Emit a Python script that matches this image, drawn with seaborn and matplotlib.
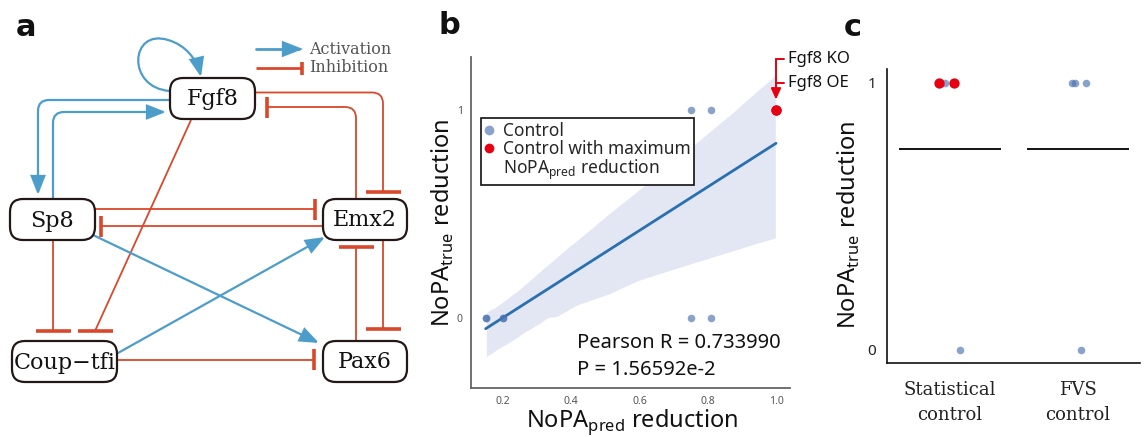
import numpy as np
import pandas as pd
import matplotlib
matplotlib.use("Agg")
import matplotlib.pyplot as plt
from matplotlib.patches import FancyBboxPatch, FancyArrowPatch, PathPatch
from matplotlib.path import Path
from matplotlib.lines import Line2D
import seaborn as sns

# ------------------------------------------------------------------ data
# panel a : regulatory network
node_names = ["Fgf8", "Sp8", "Emx2", "Coup\u2212tfi", "Pax6"]
edge_sources = ["Fgf8", "Fgf8", "Sp8", "Fgf8", "Fgf8", "Emx2", "Sp8", "Emx2",
                "Sp8", "Coup\u2212tfi", "Sp8", "Coup\u2212tfi", "Pax6", "Emx2"]
edge_targets = ["Fgf8", "Sp8", "Fgf8", "Coup\u2212tfi", "Emx2", "Fgf8", "Emx2", "Sp8",
                "Pax6", "Emx2", "Coup\u2212tfi", "Pax6", "Emx2", "Pax6"]
edge_kinds = ["act", "act", "act", "inh", "inh", "inh", "inh", "inh",
              "act", "act", "inh", "inh", "inh", "inh"]
legend_kinds = ["Activation", "Inhibition"]

# panel b : NoPA_pred vs NoPA_true reduction
b_pred = [0.15, 0.15, 0.20, 0.20, 0.75, 0.81, 0.75, 0.81, 1.00, 1.00]
b_true = [0, 0, 0, 0, 0, 0, 1, 1, 1, 1]
b_group = ["Control"] * 8 + ["Control with maximum"] * 2
b_legend_extra = "NoPA$_{\\mathregular{pred}}$ reduction"
b_pearson_r = "0.733990"
b_p_value = "1.56592e-2"
b_annot = ["Fgf8 KO", "Fgf8 OE"]
b_xticks = [0.2, 0.4, 0.6, 0.8, 1.0]
b_yticks = [0, 1]

# panel c : NoPA_true reduction per control type
c_categories = ["Statistical\ncontrol", "FVS\ncontrol"]
c_group = [c_categories[0]] * 4 + [c_categories[1]] * 4
c_values = [1, 1, 1, 0, 1, 1, 1, 0]
c_is_max = [True, False, True, False, False, False, False, False]
c_jitter = [-0.09, -0.04, 0.03, 0.08, -0.04, -0.02, 0.065, 0.03]

# ------------------------------------------------------------------ style
sns.set_style("white")
plt.rcParams["font.family"] = ["Noto Sans", "DejaVu Sans"]
plt.rcParams["mathtext.fontset"] = "custom"

W, H = 1144, 437
fig = plt.figure(figsize=(W / 100, H / 100), dpi=100)

BLUE_NET = "#4d9dca"
RED_NET = "#d9482b"
PT_BLUE = "#4c72b0"
PT_RED = "#e60012"
SERIF = ["DejaVu Serif"]

# ------------------------------------------------------------------ panel a
axa = fig.add_axes([0, 0, 420 / W, 1])
axa.set_xlim(0, 420)
axa.set_ylim(437, 0)
axa.axis("off")

node_boxes = {
    "Fgf8": (170, 78, 85, 41),
    "Sp8": (10, 199, 85, 41),
    "Emx2": (323, 199, 84, 41),
    "Coup\u2212tfi": (12, 341, 105, 41),
    "Pax6": (323, 341, 84, 41),
}
routes = {
    ("Fgf8", "Sp8"): ([(170, 100), (38, 100), (38, 195)], None),
    ("Sp8", "Fgf8"): ([(53, 199), (53, 112), (166, 112)], None),
    ("Fgf8", "Coup\u2212tfi"): ([(191, 120), (95, 331)], "h"),
    ("Fgf8", "Emx2"): ([(255, 92.5), (383, 92.5), (383, 192)], "h"),
    ("Emx2", "Fgf8"): ([(356, 199), (356, 107), (267, 107)], "v"),
    ("Sp8", "Emx2"): ([(95, 209), (315, 209)], "v"),
    ("Emx2", "Sp8"): ([(323, 226), (101, 226)], "v"),
    ("Sp8", "Pax6"): ([(93, 235), (319, 343)], None),
    ("Coup\u2212tfi", "Emx2"): ([(118, 353), (325, 237)], None),
    ("Sp8", "Coup\u2212tfi"): ([(53, 240), (53, 331)], "h"),
    ("Coup\u2212tfi", "Pax6"): ([(117, 359.5), (314, 359.5)], "v"),
    ("Pax6", "Emx2"): ([(356, 341), (356, 247)], "h"),
    ("Emx2", "Pax6"): ([(383, 240), (383, 329)], "h"),
}


def rounded_path(pts, r=11):
    verts = [pts[0]]
    codes = [Path.MOVETO]
    for i in range(1, len(pts) - 1):
        p0, p1, p2 = (np.array(pts[i - 1], float), np.array(pts[i], float),
                      np.array(pts[i + 1], float))
        d1 = (p1 - p0) / np.linalg.norm(p1 - p0)
        d2 = (p2 - p1) / np.linalg.norm(p2 - p1)
        verts += [tuple(p1 - d1 * r), tuple(p1), tuple(p1 + d2 * r)]
        codes += [Path.LINETO, Path.CURVE3, Path.CURVE3]
    verts.append(pts[-1])
    codes.append(Path.LINETO)
    return Path(verts, codes)


def draw_act(ax, path, lw=1.6):
    ax.add_patch(FancyArrowPatch(path=path, arrowstyle="-|>,head_length=1.15,head_width=0.45",
                                 mutation_scale=10, color=BLUE_NET, lw=lw,
                                 joinstyle="miter", zorder=2))


def draw_inh(ax, path, end, orient, half, lw=1.3):
    ax.add_patch(PathPatch(path, fill=False, edgecolor=RED_NET, lw=lw, zorder=2))
    x, y = end
    if orient == "h":
        ax.plot([x - half, x + half], [y, y], color=RED_NET, lw=2.6,
                solid_capstyle="butt", zorder=2)
    else:
        ax.plot([x, x], [y - half, y + half], color=RED_NET, lw=2.6,
                solid_capstyle="butt", zorder=2)


for s, t, k in zip(edge_sources, edge_targets, edge_kinds):
    if s == t:
        loop = Path([(170, 91), (126, 88), (130, 28), (168, 40), (186, 45), (197, 60), (201, 77)],
                    [Path.MOVETO, Path.CURVE4, Path.CURVE4, Path.CURVE4,
                     Path.CURVE4, Path.CURVE4, Path.CURVE4])
        draw_act(axa, loop)
        continue
    pts, orient = routes[(s, t)]
    path = rounded_path(pts)
    if k == "act":
        draw_act(axa, path)
    else:
        half = 17.5 if orient == "h" else 10.5
        draw_inh(axa, path, pts[-1], orient, half)

for name in node_names:
    x0, y0, w, h = node_boxes[name]
    axa.add_patch(FancyBboxPatch((x0, y0), w, h, boxstyle="round,pad=0,rounding_size=13",
                                 facecolor="white", edgecolor="#231815", lw=1.6, zorder=3))
    axa.text(x0 + w / 2, y0 + h / 2 + 1, name, ha="center", va="center",
             fontsize=16, family=SERIF, color="#111111", zorder=4)

# legend of panel a
draw_act(axa, Path([(256, 49), (303, 49)]), lw=2.0)
axa.text(309, 49, legend_kinds[0], ha="left", va="center", fontsize=11.5,
         family=SERIF, color="#555555")
draw_inh(axa, Path([(256, 68), (302, 68)]), (302, 68), "v", 6.5, lw=2.0)
axa.text(309, 68, legend_kinds[1], ha="left", va="center", fontsize=11.5,
         family=SERIF, color="#555555")

# ------------------------------------------------------------------ panel b
axb = fig.add_axes([471 / W, (H - 388) / H, 319 / W, 331 / H])
dfb = pd.DataFrame({"pred": b_pred, "true": b_true, "group": b_group})
sns.regplot(data=dfb, x="pred", y="true", scatter=False, ax=axb, color="#2a6fb0",
            line_kws={"lw": 2.0}, n_boot=1000, seed=3)
for coll in axb.collections:
    coll.set_facecolor("#e3e7f3")
    coll.set_alpha(1)
ctrl = dfb[dfb["group"] == "Control"]
mx = dfb[dfb["group"] != "Control"]
sns.scatterplot(data=ctrl, x="pred", y="true", color=PT_BLUE, alpha=0.65, s=30,
                linewidth=0, ax=axb, zorder=5)
sns.scatterplot(data=mx, x="pred", y="true", color=PT_RED, s=55, linewidth=0,
                ax=axb, zorder=6)
axb.set_xlim(0.107, 1.041)
axb.set_ylim(-0.338, 1.253)
axb.set_xticks(b_xticks)
axb.set_xticklabels([f"{v:.1f}" for v in b_xticks])
axb.set_yticks(b_yticks)
axb.set_yticklabels([str(v) for v in b_yticks])
axb.tick_params(axis="both", length=0, labelsize=7.5, labelcolor="#555555", pad=6)
for sp in ["top", "right"]:
    axb.spines[sp].set_visible(False)
for sp in ["left", "bottom"]:
    axb.spines[sp].set_color("#666666")
    axb.spines[sp].set_linewidth(1.3)
axb.set_xlabel("NoPA$_{\\mathregular{pred}}$ reduction", fontsize=17, color="#111111")
axb.set_ylabel("NoPA$_{\\mathregular{true}}$ reduction", fontsize=17, color="#111111")
axb.xaxis.set_label_coords(0.505, -0.058)
axb.yaxis.set_label_coords(-0.047, 0.5)

axb.text(0.417, -0.146, f"Pearson R = {b_pearson_r}", fontsize=14.5, color="#111111",
         ha="left", va="baseline")
axb.text(0.417, -0.276, f"P = {b_p_value}", fontsize=14.5, color="#111111",
         ha="left", va="baseline")

handles = [Line2D([], [], marker="o", ls="none", color=PT_BLUE, alpha=0.65, markersize=7,
                  markeredgewidth=0),
           Line2D([], [], marker="o", ls="none", color=PT_RED, markersize=7,
                  markeredgewidth=0),
           Line2D([], [], ls="none")]
leg = axb.legend(handles, [b_group[0], b_group[-1], b_legend_extra], loc="upper left",
                 bbox_to_anchor=(0.030, 0.815), borderaxespad=0, fontsize=12.5,
                 frameon=True, fancybox=False, framealpha=1, edgecolor="#111111",
                 handlelength=0.6, handletextpad=0.5, borderpad=0.2, labelspacing=0.0)
leg.get_frame().set_linewidth(1.2)
leg.set_zorder(10)

# annotation for the red point
bx = b_pred[-1]
axb.plot([bx, bx], [1.242, 1.06], color=PT_RED, lw=1.4, clip_on=False)
axb.annotate("", xy=(bx, 1.035), xytext=(bx, 1.10),
             arrowprops=dict(arrowstyle="-|>,head_length=0.55,head_width=0.25",
                             color=PT_RED, lw=1.4, mutation_scale=12), annotation_clip=False)
for yy, lab in zip([1.242, 1.127], b_annot):
    axb.plot([bx, 1.023], [yy, yy], color=PT_RED, lw=1.4, clip_on=False)
    axb.text(1.034, yy, lab, fontsize=12, color="#111111", ha="left", va="center",
             clip_on=False)

# ------------------------------------------------------------------ panel c
axc = fig.add_axes([887.3 / W, (H - 363.3) / H, 252.7 / W, 294 / H])
dfc = pd.DataFrame({"group": c_group, "value": c_values, "is_max": c_is_max,
                    "jit": c_jitter})
dfc["pos"] = dfc["group"].map({g: i for i, g in enumerate(c_categories)}) + dfc["jit"]
sns.scatterplot(data=dfc[~dfc["is_max"]], x="pos", y="value", color=PT_BLUE, alpha=0.65,
                s=30, linewidth=0, ax=axc, zorder=4)
sns.scatterplot(data=dfc[dfc["is_max"]], x="pos", y="value", color=PT_RED, s=55,
                linewidth=0, ax=axc, zorder=5)
means = dfc.groupby("group", sort=False)["value"].mean().reindex(c_categories)
xs = np.arange(len(c_categories))
axc.hlines(means.values, xs - 0.4, xs + 0.4, color="black", lw=1.3, zorder=3)
axc.set_xlim(-0.492, 1.49)
axc.set_ylim(-0.05, 1.05)
axc.set_xticks(xs)
axc.set_xticklabels(c_categories, family=SERIF, fontsize=13, linespacing=1.45,
                    color="#222222")
axc.set_yticks([0, 1])
axc.set_yticklabels(["0", "1"], fontsize=11, color="#222222")
axc.tick_params(axis="x", length=0, pad=13)
axc.tick_params(axis="y", length=0, pad=8)
for sp in ["top", "right"]:
    axc.spines[sp].set_visible(False)
for sp in ["left", "bottom"]:
    axc.spines[sp].set_color("#111111")
    axc.spines[sp].set_linewidth(1.2)
axc.set_xlabel("")
axc.set_ylabel("NoPA$_{\\mathregular{true}}$ reduction", fontsize=17, color="#111111")
axc.yaxis.set_label_coords(-0.10, 0.47)

# ------------------------------------------------------------------ panel letters
for lab, (px, py) in zip(["a", "b", "c"], [(26, 27), (449, 25), (853, 28)]):
    fig.text(px / W, 1 - py / H, lab, fontsize=22, fontweight="bold", ha="center",
             va="center", color="#111111", family=["DejaVu Sans"])

fig.savefig("out.png", dpi=100)
